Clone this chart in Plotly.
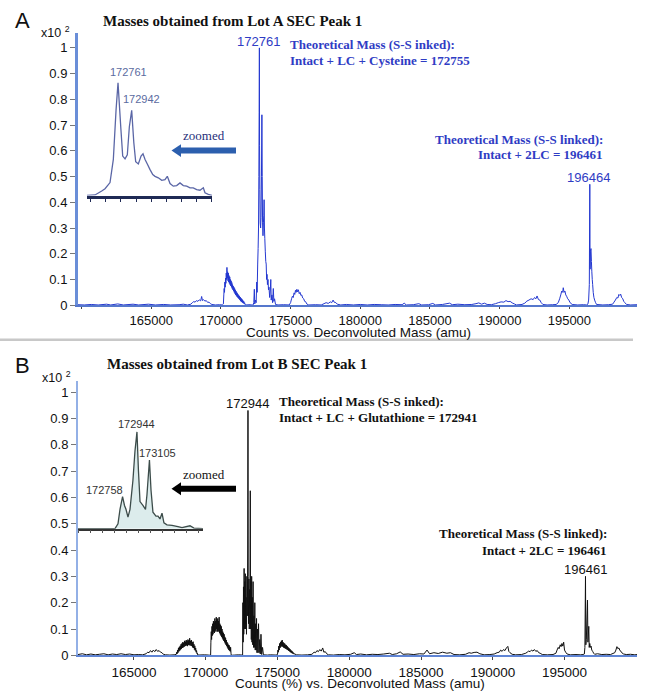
import plotly.graph_objects as go

W, H = 650, 700

# ---------------- DATA ----------------
# Panel A (Lot A SEC Peak 1): (deconvoluted mass, counts x10^2)
spectrum_a = [
    (159750, 0.002), (160200, 0.001), (160700, 0.003), (161200, 0.001), (161800, 0.004), (162100, 0.001),
    (162600, 0.005), (163000, 0.001), (163700, 0.004), (164100, 0.001), (164800, 0.004), (165300, 0.001),
    (165900, 0.003), (166400, 0.001), (167000, 0.002), (167300, 0.004), (167600, 0.001),
    (167850, 0.004), (167950, 0.010), (168050, 0.014), (168150, 0.012), (168250, 0.018), (168350, 0.015),
    (168450, 0.021), (168550, 0.017), (168620, 0.034), (168680, 0.018), (168750, 0.022), (168850, 0.016),
    (168950, 0.018), (169050, 0.011), (169150, 0.012), (169250, 0.006), (169350, 0.003), (169600, 0.001),
    (169900, 0.002), (170100, 0.001),
    (170180, 0.005), (170210, 0.040), (170235, 0.065), (170260, 0.050), (170285, 0.090), (170310, 0.070),
    (170335, 0.105), (170360, 0.085), (170385, 0.125), (170410, 0.100), (170435, 0.147), (170460, 0.105),
    (170485, 0.130), (170510, 0.095), (170535, 0.125), (170560, 0.090), (170585, 0.115), (170610, 0.085),
    (170635, 0.110), (170660, 0.080), (170685, 0.100), (170710, 0.075), (170735, 0.095), (170760, 0.070),
    (170785, 0.088), (170810, 0.065), (170835, 0.080), (170860, 0.060), (170885, 0.075), (170910, 0.055),
    (170935, 0.070), (170960, 0.050), (170985, 0.065), (171010, 0.045), (171035, 0.060), (171060, 0.040),
    (171085, 0.055), (171110, 0.037), (171135, 0.050), (171160, 0.033), (171185, 0.046), (171210, 0.030),
    (171235, 0.042), (171260, 0.027), (171285, 0.038), (171310, 0.024), (171335, 0.035), (171360, 0.020),
    (171385, 0.032), (171410, 0.017), (171435, 0.028), (171460, 0.014), (171485, 0.025), (171510, 0.012),
    (171535, 0.022), (171560, 0.010), (171585, 0.018), (171610, 0.008), (171640, 0.015), (171670, 0.005),
    (171700, 0.010), (171740, 0.002), (171800, 0.001), (172100, 0.002), (172300, 0.000),
    (172360, 0.010), (172400, 0.062), (172430, 0.005), (172480, 0.020), (172530, 0.010), (172570, 0.090),
    (172600, 0.050), (172640, 0.160), (172670, 0.220), (172700, 0.300), (172725, 0.500), (172745, 0.750),
    (172761, 1.000), (172775, 0.620), (172795, 0.450), (172820, 0.320), (172850, 0.300), (172880, 0.340),
    (172910, 0.500), (172942, 0.740), (172965, 0.500), (172990, 0.320), (173020, 0.270), (173050, 0.320),
    (173080, 0.350), (173100, 0.410), (173125, 0.300), (173150, 0.260), (173185, 0.210), (173220, 0.170),
    (173250, 0.160), (173280, 0.100), (173310, 0.120), (173340, 0.080), (173380, 0.100), (173415, 0.060),
    (173450, 0.070), (173500, 0.030), (173540, 0.055), (173580, 0.100), (173610, 0.020), (173660, 0.040),
    (173710, 0.010), (173760, 0.065), (173800, 0.015), (173850, 0.025), (173920, 0.003), (174100, 0.001),
    (174500, 0.002), (174900, 0.001),
    (175000, 0.010), (175070, 0.025), (175130, 0.035), (175190, 0.030), (175250, 0.048), (175300, 0.042),
    (175350, 0.058), (175400, 0.050), (175450, 0.062), (175500, 0.052), (175560, 0.060), (175620, 0.045),
    (175680, 0.050), (175740, 0.038), (175800, 0.040), (175870, 0.028), (175940, 0.025), (176010, 0.015),
    (176080, 0.014), (176160, 0.005), (176300, 0.001), (176800, 0.002), (177200, 0.001),
    (177400, 0.006), (177550, 0.010), (177700, 0.007), (177850, 0.013), (177950, 0.010), (178050, 0.020),
    (178120, 0.012), (178250, 0.010), (178350, 0.004), (178600, 0.001),
    (179000, 0.003), (179500, 0.001), (180000, 0.003), (180500, 0.001), (181000, 0.003), (181500, 0.002),
    (182000, 0.001), (182500, 0.003), (183000, 0.002), (183150, 0.008), (183300, 0.001), (183800, 0.002),
    (184200, 0.006), (184400, 0.001), (184900, 0.002), (185200, 0.007), (185400, 0.001), (185900, 0.003),
    (186400, 0.008), (186600, 0.002), (187000, 0.004), (187500, 0.002), (188000, 0.003), (188300, 0.006),
    (188500, 0.009), (188700, 0.004), (188900, 0.008), (189100, 0.003), (189400, 0.002),
    (189700, 0.006), (189900, 0.010), (190100, 0.013), (190300, 0.012), (190450, 0.018), (190600, 0.014),
    (190750, 0.015), (190900, 0.009), (191050, 0.005), (191200, 0.001),
    (191600, 0.003), (191800, 0.008), (191950, 0.016), (192100, 0.020), (192250, 0.025), (192400, 0.022),
    (192500, 0.030), (192600, 0.025), (192680, 0.036), (192780, 0.022), (192880, 0.020), (192980, 0.010),
    (193100, 0.003), (193400, 0.001), (193800, 0.002), (194050, 0.003),
    (194200, 0.010), (194300, 0.025), (194380, 0.040), (194450, 0.055), (194520, 0.050), (194560, 0.068),
    (194620, 0.050), (194680, 0.055), (194740, 0.040), (194800, 0.035), (194880, 0.025), (194960, 0.020),
    (195050, 0.010), (195200, 0.003), (195600, 0.001), (196000, 0.002), (196250, 0.001),
    (196330, 0.005), (196380, 0.020), (196430, 0.080), (196464, 0.470), (196485, 0.140), (196510, 0.210),
    (196550, 0.220), (196580, 0.170), (196610, 0.130), (196640, 0.100), (196670, 0.080), (196710, 0.050),
    (196760, 0.030), (196810, 0.020), (196880, 0.010), (196950, 0.003), (197400, 0.001), (197800, 0.002),
    (198100, 0.004),
    (198200, 0.012), (198300, 0.020), (198400, 0.030), (198480, 0.028), (198550, 0.042), (198620, 0.038),
    (198680, 0.043), (198750, 0.030), (198830, 0.025), (198900, 0.015), (198980, 0.010), (199100, 0.003),
    (199400, 0.001), (199850, 0.002),
]
mass_a = [m for m, _ in spectrum_a]
counts_a = [c for _, c in spectrum_a]

# Inset A (zoomed main cluster, relative to 172761)
inset_a = [
    (172350, 0.0), (172456, 0.005), (172545, 0.04), (172589, 0.06), (172655, 0.115), (172699, 0.32),
    (172735, 0.76), (172761, 1.0), (172797, 0.61), (172823, 0.35), (172854, 0.325), (172884, 0.36),
    (172911, 0.61), (172942, 0.755), (172970, 0.47), (172995, 0.30), (173030, 0.28), (173066, 0.35),
    (173092, 0.37), (173119, 0.32), (173149, 0.28), (173185, 0.23), (173221, 0.186), (173251, 0.17),
    (173295, 0.157), (173340, 0.135), (173383, 0.14), (173414, 0.17), (173450, 0.106), (173493, 0.083),
    (173538, 0.088), (173582, 0.112), (173626, 0.088), (173671, 0.083), (173715, 0.068), (173758, 0.068),
    (173803, 0.053), (173847, 0.047), (173891, 0.068), (173913, 0.024), (173957, 0.01), (174006, 0.0),
]
inset_mass_a = [m for m, _ in inset_a]
inset_int_a = [c for _, c in inset_a]

# Panel B (Lot B SEC Peak 1)
spectrum_b = [
    (161100, 0.003), (161400, 0.006), (161700, 0.002), (162000, 0.005), (162300, 0.002), (162600, 0.004),
    (162900, 0.006), (163200, 0.002), (163500, 0.005), (163800, 0.003), (164100, 0.006), (164400, 0.003),
    (164700, 0.005), (165000, 0.002), (165300, 0.003), (165600, 0.002),
    (165850, 0.006), (165950, 0.012), (166050, 0.010), (166150, 0.018), (166250, 0.012), (166350, 0.020),
    (166450, 0.014), (166550, 0.022), (166650, 0.015), (166750, 0.018), (166850, 0.012), (166950, 0.010),
    (167050, 0.004), (167200, 0.002), (167500, 0.001), (167800, 0.002),
    (167950, 0.004), (167980, 0.012), (168010, 0.006), (168040, 0.020), (168070, 0.010), (168100, 0.028),
    (168130, 0.015), (168160, 0.032), (168190, 0.018), (168220, 0.036), (168250, 0.022), (168280, 0.042),
    (168310, 0.025), (168340, 0.045), (168370, 0.028), (168400, 0.050), (168430, 0.030), (168460, 0.048),
    (168490, 0.032), (168520, 0.055), (168550, 0.035), (168580, 0.052), (168610, 0.036), (168640, 0.058),
    (168670, 0.038), (168700, 0.055), (168730, 0.035), (168760, 0.060), (168790, 0.040), (168820, 0.057),
    (168850, 0.038), (168880, 0.065), (168910, 0.040), (168940, 0.055), (168970, 0.036), (169000, 0.058),
    (169030, 0.035), (169060, 0.050), (169090, 0.030), (169120, 0.052), (169150, 0.028), (169180, 0.042),
    (169210, 0.022), (169240, 0.036), (169270, 0.018), (169300, 0.028), (169330, 0.012), (169360, 0.018),
    (169390, 0.006), (169420, 0.008), (169450, 0.001), (169900, 0.002), (170200, 0.001),
    (170340, 0.000), (170360, 0.050), (170385, 0.090), (170410, 0.060), (170435, 0.110), (170460, 0.075),
    (170485, 0.120), (170510, 0.080), (170535, 0.130), (170560, 0.090), (170585, 0.125), (170610, 0.085),
    (170635, 0.140), (170660, 0.095), (170685, 0.130), (170710, 0.090), (170735, 0.145), (170760, 0.100),
    (170785, 0.135), (170810, 0.090), (170835, 0.140), (170860, 0.095), (170885, 0.130), (170910, 0.090),
    (170935, 0.145), (170960, 0.085), (170985, 0.120), (171010, 0.080), (171035, 0.115), (171060, 0.075),
    (171085, 0.110), (171110, 0.070), (171135, 0.100), (171160, 0.065), (171185, 0.090), (171210, 0.060),
    (171235, 0.085), (171260, 0.055), (171285, 0.080), (171310, 0.050), (171335, 0.070), (171360, 0.045),
    (171385, 0.065), (171410, 0.040), (171435, 0.058), (171460, 0.035), (171485, 0.050), (171510, 0.030),
    (171535, 0.045), (171560, 0.025), (171585, 0.040), (171610, 0.020), (171635, 0.038), (171660, 0.018),
    (171685, 0.032), (171710, 0.015), (171735, 0.030), (171760, 0.008), (171780, 0.000), (172000, 0.001),
    (172300, 0.002), (172550, 0.001),
    (172570, 0.000), (172590, 0.200), (172610, 0.050), (172630, 0.260), (172650, 0.080), (172675, 0.330),
    (172695, 0.100), (172720, 0.280), (172740, 0.120), (172758, 0.310), (172780, 0.100), (172810, 0.220),
    (172840, 0.080), (172870, 0.300), (172900, 0.150), (172925, 0.400), (172944, 0.930), (172960, 0.300),
    (172985, 0.120), (173010, 0.290), (173035, 0.100), (173060, 0.250), (173080, 0.200), (173105, 0.625),
    (173125, 0.100), (173150, 0.280), (173175, 0.060), (173200, 0.300), (173225, 0.050), (173250, 0.220),
    (173275, 0.040), (173300, 0.280), (173330, 0.030), (173360, 0.150), (173390, 0.030), (173420, 0.200),
    (173450, 0.020), (173480, 0.120), (173510, 0.020), (173540, 0.140), (173570, 0.010), (173610, 0.100),
    (173640, 0.010), (173680, 0.120), (173720, 0.010), (173760, 0.060), (173800, 0.005), (173850, 0.080),
    (173900, 0.003), (173960, 0.030), (174020, 0.002), (174300, 0.001),
    (174500, 0.002), (174900, 0.001),
    (175000, 0.003), (175030, 0.020), (175060, 0.012), (175090, 0.035), (175120, 0.020), (175150, 0.045),
    (175180, 0.028), (175210, 0.050), (175240, 0.032), (175270, 0.055), (175300, 0.035), (175330, 0.058),
    (175360, 0.033), (175390, 0.050), (175420, 0.030), (175450, 0.047), (175480, 0.028), (175510, 0.044),
    (175540, 0.026), (175570, 0.040), (175600, 0.024), (175630, 0.038), (175660, 0.022), (175690, 0.034),
    (175720, 0.020), (175750, 0.030), (175780, 0.017), (175810, 0.027), (175840, 0.015), (175870, 0.024),
    (175900, 0.012), (175930, 0.020), (175960, 0.010), (175990, 0.017), (176020, 0.008), (176050, 0.014),
    (176080, 0.006), (176110, 0.010), (176150, 0.004), (176200, 0.006), (176300, 0.002), (176700, 0.001),
    (177100, 0.002),
    (177400, 0.004), (177550, 0.012), (177650, 0.010), (177750, 0.018), (177850, 0.014), (177950, 0.022),
    (178050, 0.016), (178150, 0.028), (178230, 0.012), (178330, 0.014), (178430, 0.006), (178550, 0.002),
    (178900, 0.001),
    (179300, 0.003), (179700, 0.002), (180100, 0.004), (180350, 0.010), (180500, 0.003), (180800, 0.005),
    (181200, 0.002), (181600, 0.004), (182000, 0.003), (182400, 0.005), (182800, 0.008), (183000, 0.003),
    (183300, 0.006), (183550, 0.013), (183750, 0.004), (184100, 0.005), (184500, 0.003), (184900, 0.006),
    (185200, 0.005), (185420, 0.020), (185600, 0.006), (185900, 0.010), (186200, 0.007), (186500, 0.012),
    (186800, 0.008), (187050, 0.010), (187300, 0.003), (187700, 0.002), (188100, 0.004), (188350, 0.010),
    (188500, 0.008), (188700, 0.011), (188900, 0.012), (189100, 0.006), (189400, 0.002), (189800, 0.003),
    (190100, 0.005),
    (190300, 0.010), (190450, 0.012), (190550, 0.020), (190650, 0.015), (190750, 0.022), (190850, 0.018),
    (190950, 0.028), (191050, 0.034), (191120, 0.015), (191200, 0.010), (191350, 0.004), (191600, 0.002),
    (192000, 0.003),
    (192300, 0.008), (192400, 0.012), (192500, 0.016), (192600, 0.014), (192700, 0.020), (192800, 0.016),
    (192900, 0.022), (193000, 0.015), (193100, 0.018), (193200, 0.010), (193300, 0.008), (193450, 0.003),
    (193800, 0.002), (194200, 0.003),
    (194400, 0.008), (194480, 0.020), (194560, 0.030), (194620, 0.025), (194700, 0.040), (194760, 0.033),
    (194820, 0.045), (194880, 0.035), (194940, 0.050), (195000, 0.020), (195080, 0.012), (195180, 0.005),
    (195400, 0.002), (195800, 0.003), (196100, 0.002), (196300, 0.003),
    (196380, 0.005), (196420, 0.030), (196461, 0.300), (196485, 0.040), (196520, 0.060), (196600, 0.210),
    (196630, 0.050), (196690, 0.110), (196720, 0.030), (196760, 0.045), (196800, 0.030), (196850, 0.035),
    (196900, 0.020), (196960, 0.015), (197030, 0.008), (197100, 0.004), (197300, 0.006), (197600, 0.003),
    (197900, 0.004), (198200, 0.003),
    (198500, 0.010), (198580, 0.020), (198650, 0.033), (198720, 0.025), (198790, 0.028), (198860, 0.018),
    (198940, 0.015), (199020, 0.008), (199120, 0.005), (199300, 0.003), (199600, 0.004), (199900, 0.002),
    (200050, 0.003),
]
mass_b = [m for m, _ in spectrum_b]
counts_b = [c for _, c in spectrum_b]

# Inset B (zoomed main cluster, relative to 172944)
inset_b = [
    (172183, 0.0), (172660, 0.0), (172699, 0.05), (172725, 0.2), (172758, 0.33), (172783, 0.24),
    (172802, 0.2), (172828, 0.12), (172854, 0.2), (172892, 0.5), (172918, 0.8), (172944, 1.0),
    (172963, 0.6), (172983, 0.28), (173021, 0.24), (173054, 0.2), (173073, 0.35), (173105, 0.71),
    (173125, 0.4), (173150, 0.17), (173189, 0.13), (173215, 0.13), (173241, 0.1), (173267, 0.16),
    (173292, 0.06), (173331, 0.04), (173396, 0.035), (173473, 0.02), (173525, 0.01), (173628, 0.03),
    (173679, 0.005), (173796, 0.0),
]
inset_mass_b = [m for m, _ in inset_b]
inset_int_b = [c for _, c in inset_b]

y_ticks = [0, 0.1, 0.2, 0.3, 0.4, 0.5, 0.6, 0.7, 0.8, 0.9, 1.0]
y_ticktext = ["0", "0.1", "0.2", "0.3", "0.4", "0.5", "0.6", "0.7", "0.8", "0.9", "1"]
x_ticks = [165000, 170000, 175000, 180000, 185000, 190000, 195000]
x_ticktext = ["165000", "170000", "175000", "180000", "185000", "190000", "195000"]
x_minor_a = [160000]

peak_labels_a = [(172761, 1.0, "172761"), (196464, 0.47, "196464")]
inset_labels_a = [(172761, 1.0, "172761"), (172942, 0.755, "172942")]
peak_labels_b = [(172944, 0.93, "172944"), (196461, 0.30, "196461")]
inset_labels_b = [(172944, 1.0, "172944"), (173105, 0.71, "173105"), (172758, 0.33, "172758")]

# ---------------- STYLE ----------------
SANS = "Liberation Sans, Arial, sans-serif"
SERIF = "Liberation Serif, Times New Roman, serif"
BLUE = "#2438d0"
BLUE_TXT = "#2f3cc4"
VSCALE = 1.009  # small vertical correction of the layout grid


def fx(p):
    return p / W


def fy(p):
    return 1 - (p * VSCALE) / H


fig = go.Figure()
fig.add_trace(go.Scatter(x=mass_a, y=counts_a, mode="lines", line=dict(color=BLUE, width=1, simplify=False),
                         xaxis="x", yaxis="y", hoverinfo="skip"))
fig.add_trace(go.Scatter(x=inset_mass_a, y=inset_int_a, mode="lines",
                         line=dict(color="#5a66a6", width=1.3, simplify=False),
                         xaxis="x2", yaxis="y2", hoverinfo="skip"))
fig.add_trace(go.Scatter(x=mass_b, y=counts_b, mode="lines", line=dict(color="#111111", width=1, simplify=False),
                         xaxis="x3", yaxis="y3", hoverinfo="skip"))
fig.add_trace(go.Scatter(x=inset_mass_b, y=inset_int_b, mode="lines", fill="tozeroy",
                         fillcolor="#dcecec", line=dict(color="#3c4c4a", width=1.3, simplify=False),
                         xaxis="x4", yaxis="y4", hoverinfo="skip"))

main_x = dict(domain=[fx(78), fx(637)], showgrid=False, zeroline=False, showline=True,
              linewidth=2, ticks="outside", ticklen=3, tickcolor="#444",
              tickvals=x_ticks, ticktext=x_ticktext,
              tickfont=dict(family=SANS, size=13.5, color="#111"))
main_y = dict(showgrid=False, zeroline=False, showline=True, ticks="outside", ticklen=5,
              tickcolor="#777", tickvals=y_ticks, ticktext=y_ticktext,
              tickfont=dict(family=SANS, size=13, color="#111"))

fig.update_layout(
    width=W, height=H, autosize=False, showlegend=False,
    margin=dict(l=0, r=0, t=0, b=0),
    paper_bgcolor="white", plot_bgcolor="rgba(0,0,0,0)",
    xaxis=dict(main_x, anchor="y", range=[159750, 199850], linecolor="#5577cc", ticklen=2,
               tickfont=dict(family=SANS, size=13, color="#111"),
               minor=dict(tickvals=x_minor_a, ticks="outside", ticklen=2, tickcolor="#444")),
    yaxis=dict(main_y, anchor="x", domain=[fy(306), fy(33)], range=[0, (306 - 33) / 258],
               linecolor="#6a8ed8", linewidth=3),
    xaxis2=dict(anchor="y2", domain=[fx(87), fx(212)], range=[172350, 174006], showgrid=False,
                zeroline=False, showline=True, linecolor="#1f2a55", linewidth=2.5, ticks="outside",
                ticklen=4, tickcolor="#1f2a55", tick0=172400, dtick=200, showticklabels=False),
    yaxis2=dict(anchor="x2", domain=[fy(196), fy(66)], range=[0, 130 / 113], visible=False),
    xaxis3=dict(main_x, anchor="y3", range=[161100, 200050], linecolor="#5f84d4"),
    yaxis3=dict(main_y, anchor="x3", domain=[fy(657), fy(382)], range=[0, (657 - 382) / 264],
                linecolor="#93b0e6", linewidth=2),
    xaxis4=dict(anchor="y4", domain=[fx(78), fx(203)], range=[172183, 173796], showgrid=False,
                zeroline=False, showline=True, linecolor="#333", linewidth=1.5, ticks="outside",
                ticklen=3, tickcolor="#555", tick0=172340, dtick=155, showticklabels=False),
    yaxis4=dict(anchor="x4", domain=[fy(530), fy(414)], range=[0, 116 / 97], visible=False),
)

ann = []


def text(x, y, t, size=13, font=SANS, color="#111", xanchor="center", yanchor="middle", **kw):
    ann.append(dict(x=fx(x), y=fy(y), xref="paper", yref="paper", text=t, showarrow=False,
                    xanchor=xanchor, yanchor=yanchor, font=dict(family=font, size=size, color=color), **kw))


# Panel letters and exponents
text(22, 21, "A", size=22)
text(22, 366, "B", size=22)
text(39, 32, "x10 <sup>2</sup>", size=12.5, xanchor="left")
text(40, 378, "x10 <sup>2</sup>", size=12.5, xanchor="left")

# Titles
text(101, 21, "<b>Masses obtained from Lot A SEC Peak 1</b>", size=15, font=SERIF, xanchor="left")
text(105, 365, "<b>Masses obtained from Lot B SEC Peak 1</b>", size=15, font=SERIF, xanchor="left")

# Panel A notes
text(288, 45, "<b>Theoretical Mass (S-S inked):</b>", font=SERIF, color=BLUE_TXT, xanchor="left")
text(288, 61, "<b>Intact + LC + Cysteine = 172755</b>", font=SERIF, color=BLUE_TXT, xanchor="left")
text(605, 140, "<b>Theoretical Mass (S-S linked):</b>", font=SERIF, color=BLUE_TXT, xanchor="right")
text(605, 155, "<b>Intact + 2LC = 196461</b>", font=SERIF, color=BLUE_TXT, xanchor="right")
text(204, 136, "zoomed", font=SERIF, color="#1f2f7a")
text(358, 333.5, "Counts vs. Deconvoluted Mass (amu)", size=13.5)

# Panel B notes
text(277, 403, "<b>Theoretical Mass (S-S inked):</b>", font=SERIF, xanchor="left")
text(277, 419, "<b>Intact + LC + Glutathione = 172941</b>", font=SERIF, xanchor="left")
text(609, 535, "<b>Theoretical Mass (S-S linked):</b>", font=SERIF, xanchor="right")
text(609, 552, "<b>Intact + 2LC = 196461</b>", font=SERIF, xanchor="right")
text(204, 476, "zoomed", font=SERIF)
text(360, 685, "Counts (%) vs. Deconvoluted Mass (amu)", size=13.5)

# Peak labels (anchored to data)
for m, v, t in peak_labels_a:
    ann.append(dict(x=m, y=v, xref="x", yref="y", text=t, showarrow=False, yanchor="bottom",
                    xshift=-1, yshift=-3, font=dict(family=SANS, size=13, color=BLUE_TXT)))
for (m, v, t), (xs, ys) in zip(inset_labels_a, [(10, 3), (10, 3)]):
    ann.append(dict(x=m, y=v, xref="x2", yref="y2", text=t, showarrow=False, yanchor="bottom",
                    xshift=xs, yshift=ys, font=dict(family=SANS, size=11, color="#5b6b9f")))
for m, v, t in peak_labels_b:
    ann.append(dict(x=m, y=v, xref="x3", yref="y3", text=t, showarrow=False, yanchor="bottom",
                    xshift=0, yshift=-3, font=dict(family=SANS, size=13, color="#111")))
for (m, v, t), (xs, ys) in zip(inset_labels_b, [(0, 0), (8, -1), (-18, -1)]):
    ann.append(dict(x=m, y=v, xref="x4", yref="y4", text=t, showarrow=False, yanchor="bottom",
                    xshift=xs, yshift=ys, font=dict(family=SANS, size=11, color="#333")))

fig.update_layout(annotations=ann)

# Arrows and separator
shapes = []
for yc, col in [(151, "#2c5fae"), (490, "#000000")]:
    shapes.append(dict(type="line", xref="paper", yref="paper", x0=fx(179), x1=fx(236), y0=fy(yc), y1=fy(yc),
                       line=dict(color=col, width=6)))
    shapes.append(dict(type="path", xref="paper", yref="paper",
                       path=f"M {fx(171.5)} {fy(yc)} L {fx(181)} {fy(yc - 6.5)} L {fx(181)} {fy(yc + 6.5)} Z",
                       fillcolor=col, line=dict(color=col, width=0)))
shapes.append(dict(type="line", xref="paper", yref="paper", x0=0, x1=fx(633), y0=fy(340.5), y1=fy(340.5),
                   line=dict(color="#c8c8c8", width=2.5)))
fig.update_layout(shapes=shapes)

page_fix = (
    "var s=document.createElement('style');"
    "s.innerHTML='html,body{margin:0;padding:0;overflow:hidden;width:650px;height:700px;}';"
    "document.head.appendChild(s);"
)
fig.write_html("out.html", config={"displayModeBar": False}, post_script=page_fix)
